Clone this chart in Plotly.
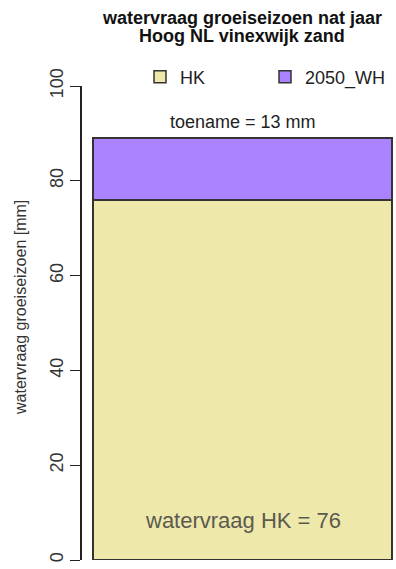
import plotly.graph_objects as go

categories = ["nat jaar"]
hk_values = [76]
wh_increase = [13]
series_names = ["HK", "2050_WH"]
y_ticks = [0, 20, 40, 60, 80, 100]
title_lines = ["watervraag groeiseizoen nat jaar", "Hoog NL vinexwijk zand"]

FONT = "Liberation Sans, Arial, sans-serif"
HK_COLOR = "#EEE8AA"
WH_COLOR = "#AB82FF"

L, T, B, W, H = 82, 86, 9, 396, 569
PH = H - T - B  # plot height in px


def py(pix_y):
    """paper y from pixel y (top origin)"""
    return (H - B - pix_y) / PH


def px(pix_x):
    return (pix_x - L) / (W - L)


fig = go.Figure()
fig.add_trace(go.Bar(
    x=[0], y=hk_values, name=series_names[0], width=1,
    marker=dict(color=HK_COLOR, line=dict(color="#333333", width=1.5)),
))
fig.add_trace(go.Bar(
    x=[0], y=wh_increase, name=series_names[1], width=1,
    marker=dict(color=WH_COLOR, line=dict(color="#333333", width=1.5)),
))

fig.add_annotation(
    x=0, y=8.4, xref="x", yref="y",
    text=f"watervraag HK = {hk_values[0]}", showarrow=False,
    font=dict(family=FONT, size=22, color="#5a5a50"),
)
fig.add_annotation(
    x=0, y=92.4, xref="x", yref="y",
    text=f"toename = {wh_increase[0]} mm", showarrow=False,
    font=dict(family=FONT, size=18, color="#222222"),
)
for line, ypix in zip(title_lines, [18.5, 35.5]):
    fig.add_annotation(
        x=px(242), y=py(ypix), xref="paper", yref="paper",
        text=f"<b>{line}</b>",
        showarrow=False, xanchor="center", yanchor="middle",
        font=dict(family=FONT, size=18, color="#111111"),
    )
fig.add_annotation(
    x=px(20), y=py(308), xref="paper", yref="paper",
    text="watervraag groeiseizoen [mm]", textangle=-90,
    showarrow=False, xanchor="center", yanchor="middle",
    font=dict(family=FONT, size=16, color="#333333"),
)

fig.update_layout(
    width=W, height=H,
    barmode="stack",
    paper_bgcolor="white", plot_bgcolor="white",
    margin=dict(l=L, r=0, t=T, b=B, autoexpand=False),
    showlegend=True,
    legend=dict(
        orientation="h", x=px(140), xanchor="left", y=py(77), yanchor="middle",
        font=dict(family=FONT, size=18, color="#222222"),
        entrywidth=80, entrywidthmode="pixels",
        bgcolor="rgba(0,0,0,0)", traceorder="normal",
    ),
    xaxis=dict(
        range=[-0.5368, 0.5134], showticklabels=False, showgrid=False,
        zeroline=False, showline=False, ticks="",
    ),
    yaxis=dict(
        range=[0, 100], tickvals=y_ticks, ticktext=[str(v) for v in y_ticks],
        tickangle=-90, ticks="outside", ticklen=10, tickcolor="#222222",
        showline=True, linecolor="#222222", linewidth=1.5,
        showgrid=False, zeroline=False, automargin=False,
        tickfont=dict(family=FONT, size=18, color="#333333"),
    ),
)

fig.write_html(
    "out.html",
    config={"displayModeBar": False},
    post_script="document.body.style.margin='0';document.body.style.overflow='hidden';",
)
